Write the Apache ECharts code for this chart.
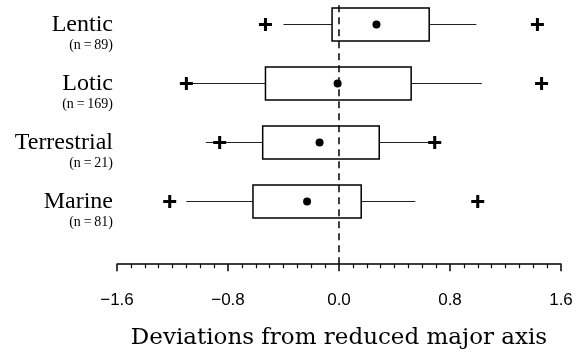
<!DOCTYPE html>
<html>
<head>
<meta charset="utf-8">
<script src="https://cdn.jsdelivr.net/npm/echarts@6/dist/echarts.min.js"></script>
<style>
  html, body { margin: 0; padding: 0; background: #fff; }
  #chart { width: 576px; height: 355px; }
</style>
</head>
<body>
<div id="chart"></div>
<script>
// Values
const categories = ['Lentic', 'Lotic', 'Terrestrial', 'Marine'];
const counts = [89, 169, 21, 81];
const whiskerLow = [-0.40, -1.10, -0.96, -1.10];
const q1 = [-0.05, -0.53, -0.55, -0.62];
const q3 = [0.65, 0.52, 0.29, 0.16];
const whiskerHigh = [0.99, 1.03, 0.69, 0.55];
const means = [0.27, -0.01, -0.14, -0.23];
const outlierLow = [-0.53, -1.10, -0.86, -1.22];
const outlierHigh = [1.43, 1.46, 0.69, 1.00];
const xTicks = [-1.6, -0.8, 0.0, 0.8, 1.6];

const serif = "'Liberation Serif', 'DejaVu Serif', serif";
const wideSerif = "'DejaVu Serif', 'Liberation Serif', serif";
const sans = "'Liberation Sans', Arial, sans-serif";
const plusPath = 'path://M5,0H8V5H13V8H8V13H5V8H0V5H5Z';

const boxData = categories.map((c, i) => [i, whiskerLow[i], q1[i], q3[i], whiskerHigh[i]]);
const meanData = categories.map((c, i) => [means[i], i]);
const outlierData = [];
categories.forEach((c, i) => {
    outlierData.push([outlierLow[i], i]);
    outlierData.push([outlierHigh[i], i]);
});

function renderBox(params, api) {
    const idx = api.value(0);
    const pLo = api.coord([api.value(1), idx]);
    const pQ1 = api.coord([api.value(2), idx]);
    const pQ3 = api.coord([api.value(3), idx]);
    const pHi = api.coord([api.value(4), idx]);
    const h = api.size([0, 1])[1] * 0.56;
    const cy = pQ1[1];
    return {
        type: 'group',
        children: [
            {
                type: 'line',
                shape: { x1: pLo[0], y1: cy, x2: pQ1[0], y2: cy },
                style: { stroke: '#222', lineWidth: 1.2 }
            },
            {
                type: 'line',
                shape: { x1: pQ3[0], y1: cy, x2: pHi[0], y2: cy },
                style: { stroke: '#222', lineWidth: 1.2 }
            },
            {
                type: 'rect',
                shape: { x: pQ1[0], y: cy - h / 2, width: pQ3[0] - pQ1[0], height: h },
                style: { fill: 'none', stroke: '#000', lineWidth: 1.5 }
            }
        ]
    };
}

const chart = echarts.init(document.getElementById('chart'));

const option = {
    animation: false,
    backgroundColor: '#fff',
    grid: [
        // axis + dashed zero line
        { left: 117, right: 15, top: 5, bottom: 83, outerBoundsMode: 'none' },
        // boxes
        { left: 117, right: 15, top: -5, height: 236, outerBoundsMode: 'none' }
    ],
    xAxis: [
        {
            gridIndex: 0,
            type: 'value',
            min: xTicks[0],
            max: xTicks[xTicks.length - 1],
            interval: 0.8,
            splitLine: { show: false },
            axisLine: { lineStyle: { color: '#000', width: 1.5 } },
            axisTick: { length: 7, lineStyle: { color: '#000', width: 1.5 } },
            minorTick: { show: true, splitNumber: 8, length: 4, lineStyle: { color: '#000', width: 1.2 } },
            axisLabel: {
                margin: 20,
                color: '#000',
                fontFamily: sans,
                fontSize: 17,
                formatter: v => (v < 0 ? '\u2212' : '') + Math.abs(v).toFixed(1)
            },
            name: 'Deviations from reduced major axis',
            nameLocation: 'middle',
            nameGap: 55,
            nameTextStyle: { color: '#000', fontFamily: wideSerif, fontSize: 23 }
        },
        {
            gridIndex: 1,
            type: 'value',
            min: xTicks[0],
            max: xTicks[xTicks.length - 1],
            show: false
        }
    ],
    yAxis: [
        {
            gridIndex: 0,
            type: 'value',
            min: -0.03,
            max: 1,
            show: false
        },
        {
            gridIndex: 1,
            type: 'category',
            inverse: true,
            data: categories,
            axisLine: { show: false },
            axisTick: { show: false },
            splitLine: { show: false },
            axisLabel: {
                margin: 4,
                align: 'right',
                formatter: (v, i) => '{s| }\n{a|' + v + '}\n{b|(n\u2009=\u2009' + counts[i] + ')}',
                rich: {
                    s: { fontSize: 12, lineHeight: 18 },
                    a: { fontFamily: serif, fontSize: 24, lineHeight: 24, color: '#000', align: 'right' },
                    b: { fontFamily: serif, fontSize: 14, lineHeight: 18, color: '#000', align: 'right' }
                }
            }
        }
    ],
    series: [
        {
            name: 'zero',
            type: 'line',
            xAxisIndex: 0,
            yAxisIndex: 0,
            data: [[0, 0], [0, 1]],
            symbol: 'none',
            silent: true,
            lineStyle: { color: '#000', width: 1.5, type: [7, 5] },
            z: 1
        },
        {
            name: 'box',
            type: 'custom',
            xAxisIndex: 1,
            yAxisIndex: 1,
            data: boxData,
            encode: { y: 0, x: [1, 2, 3, 4] },
            renderItem: renderBox,
            z: 2
        },
        {
            name: 'mean',
            type: 'scatter',
            xAxisIndex: 1,
            yAxisIndex: 1,
            data: meanData,
            symbol: 'circle',
            symbolSize: 8,
            itemStyle: { color: '#000', opacity: 1 },
            z: 3
        },
        {
            name: 'outlier',
            type: 'scatter',
            xAxisIndex: 1,
            yAxisIndex: 1,
            data: outlierData,
            symbol: plusPath,
            symbolSize: 13,
            itemStyle: { color: '#000', opacity: 1 },
            z: 3
        }
    ]
};

chart.setOption(option);
</script>
</body>
</html>
